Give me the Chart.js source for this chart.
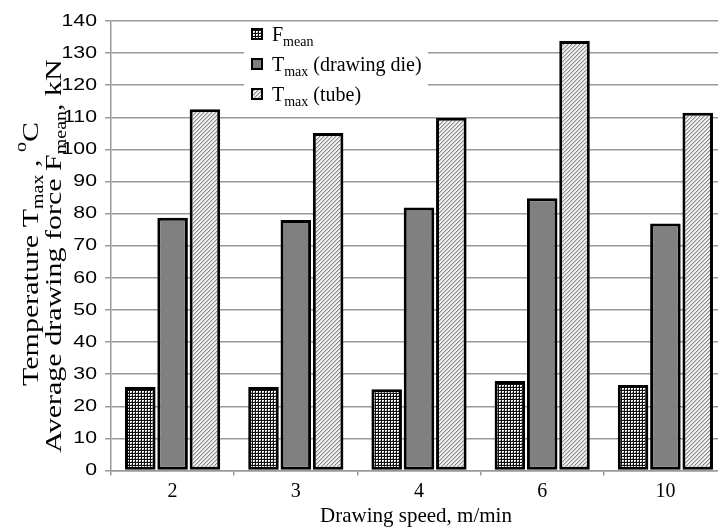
<!DOCTYPE html>
<html>
<head>
<meta charset="utf-8">
<script src="https://cdn.jsdelivr.net/npm/chart.js@4/dist/chart.umd.min.js"></script>
<style>
  html, body { margin: 0; padding: 0; background: #fff; overflow: hidden; }
  #wrap { width: 728px; height: 532px; }
</style>
</head>
<body>
<div id="wrap"><canvas id="chart" width="728" height="532"></canvas></div>
<script>
// drawing speed groups, m/min
const speeds = ['2', '3', '4', '6', '10'];
// average drawing force, kN
const forceMean = [26.0, 26.0, 25.3, 27.9, 26.6];
// max temperature of the drawing die, °C
const tempDie = [78.7, 78.0, 81.9, 84.8, 76.9];
// max temperature of the tube, °C
const tempTube = [112.5, 105.1, 109.9, 133.8, 111.4];
const yTicks = [0, 10, 20, 30, 40, 50, 60, 70, 80, 90, 100, 110, 120, 130, 140];

const canvas = document.getElementById('chart');
const ctx = canvas.getContext('2d');

function makePattern(size, draw) {
    const c = document.createElement('canvas');
    c.width = c.height = size;
    draw(c.getContext('2d'));
    return ctx.createPattern(c, 'repeat');
}

// fine check pattern for the force bars
const dotFill = makePattern(3, function(g) {
    g.fillStyle = '#fff';
    g.fillRect(0, 0, 3, 3);
    g.fillStyle = '#101010';
    g.fillRect(0, 0, 3, 1);
    g.fillRect(0, 0, 1, 3);
    g.fillStyle = '#9a9a9a';
    g.fillRect(2, 2, 1, 1);
});

// light diagonal hatch for the tube bars
const hatchFill = makePattern(4, function(g) {
    g.fillStyle = '#f2f2f2';
    g.fillRect(0, 0, 4, 4);
    for (let i = 0; i < 4; i++) {
        g.fillStyle = '#8a8a8a';
        g.fillRect(3 - i, i, 1, 1);
        g.fillStyle = '#c6c6c6';
        g.fillRect((4 - i) % 4, i, 1, 1);
    }
});

const solidGray = '#808080';

const SERIF = '"Liberation Serif", "Times New Roman", serif';

// draw a sequence of [text, size, dy] runs, returns total width
function drawRuns(c, runs, x, y, measureOnly) {
    let cx = x;
    runs.forEach(function(r) {
        c.font = r[1] + 'px ' + SERIF;
        if (!measureOnly) c.fillText(r[0], cx, y + r[2]);
        cx += c.measureText(r[0]).width;
    });
    return cx - x;
}

const legendItems = [
    { fill: dotFill, runs: [['F', 20, 0], ['mean', 14, 5]] },
    { fill: solidGray, runs: [['T', 20, 0], ['max', 14, 5], [' (drawing die)', 20, 0]] },
    { fill: hatchFill, runs: [['T', 20, 0], ['max', 14, 5], [' (tube)', 20, 0]] }
];

const legendBox = {
    id: 'legendBox',
    afterDatasetsDraw(chart) {
        const c = chart.ctx;
        c.save();
        c.fillStyle = '#fff';
        c.fillRect(244, 23, 184, 82);
        legendItems.forEach(function(item, i) {
            const cy = 34 + i * 30;
            c.fillStyle = item.fill;
            c.fillRect(252, cy - 5, 10, 10);
            c.strokeStyle = '#000';
            c.lineWidth = 2;
            c.strokeRect(252, cy - 5, 10, 10);
            c.fillStyle = '#000';
            c.textBaseline = 'alphabetic';
            drawRuns(c, item.runs, 272, cy + 7);
        });
        c.restore();
    }
};

const axisTexts = {
    id: 'axisTexts',
    afterDraw(chart) {
        const c = chart.ctx;
        const y = chart.scales.y;
        c.save();
        c.fillStyle = '#000';

        // y tick labels, slightly wide sans digits
        c.font = '17px "Liberation Sans", Arial, sans-serif';
        c.textAlign = 'right';
        c.textBaseline = 'middle';
        yTicks.forEach(function(v) {
            c.save();
            c.translate(97, y.getPixelForValue(v));
            c.scale(1.25, 1);
            c.fillText(String(v), 0, 0);
            c.restore();
        });

        // rotated y title in two lines, stretched a little along its length
        c.textAlign = 'left';
        c.textBaseline = 'alphabetic';
        const lines = [
            { x: 38, cy: 254, runs: [['Temperature T', 24, 0], ['max', 16, 5], [' , ', 24, 0], ['o', 16, -12], ['C', 24, 0]] },
            { x: 61, cy: 256, runs: [['Average drawing force F', 24, 0], ['mean', 16, 5], [', kN', 24, 0]] }
        ];
        lines.forEach(function(l) {
            const w = drawRuns(c, l.runs, 0, 0, true);
            c.save();
            c.translate(l.x, l.cy);
            c.rotate(-Math.PI / 2);
            c.scale(1.25, 1);
            drawRuns(c, l.runs, -w / 2, 0);
            c.restore();
        });

        // x title
        c.font = '21px ' + SERIF;
        c.textAlign = 'center';
        c.fillText('Drawing speed, m/min', 416, 522);
        c.restore();
    }
};

const barStyle = {
    borderColor: '#000',
    borderWidth: 3,
    borderSkipped: false,
    categoryPercentage: 0.787,
    barPercentage: 0.945
};

new Chart(ctx, {
    type: 'bar',
    data: {
        labels: speeds,
        datasets: [
            Object.assign({ label: 'F mean', data: forceMean, backgroundColor: dotFill }, barStyle),
            Object.assign({ label: 'T max (drawing die)', data: tempDie, backgroundColor: solidGray }, barStyle),
            Object.assign({ label: 'T max (tube)', data: tempTube, backgroundColor: hatchFill }, barStyle)
        ]
    },
    options: {
        responsive: false,
        animation: false,
        layout: { padding: { top: 21, right: 1, left: 0, bottom: 0 } },
        plugins: {
            legend: { display: false },
            tooltip: { enabled: false }
        },
        scales: {
            x: {
                grid: { offset: true, drawOnChartArea: false, tickLength: 5, color: '#999', lineWidth: 1.5 },
                border: { color: '#999', width: 1.5 },
                ticks: { color: '#000', font: { family: SERIF, size: 20 }, padding: 4 },
                afterFit: function(s) { s.height = 61.5; }
            },
            y: {
                min: yTicks[0],
                max: yTicks[yTicks.length - 1],
                ticks: { stepSize: yTicks[1] - yTicks[0], display: false },
                grid: { color: '#999', lineWidth: 1.5, tickLength: 6 },
                border: { color: '#999', width: 1.5 },
                afterFit: function(s) { s.width = 111; }
            }
        }
    },
    plugins: [legendBox, axisTexts]
});
</script>
</body>
</html>
